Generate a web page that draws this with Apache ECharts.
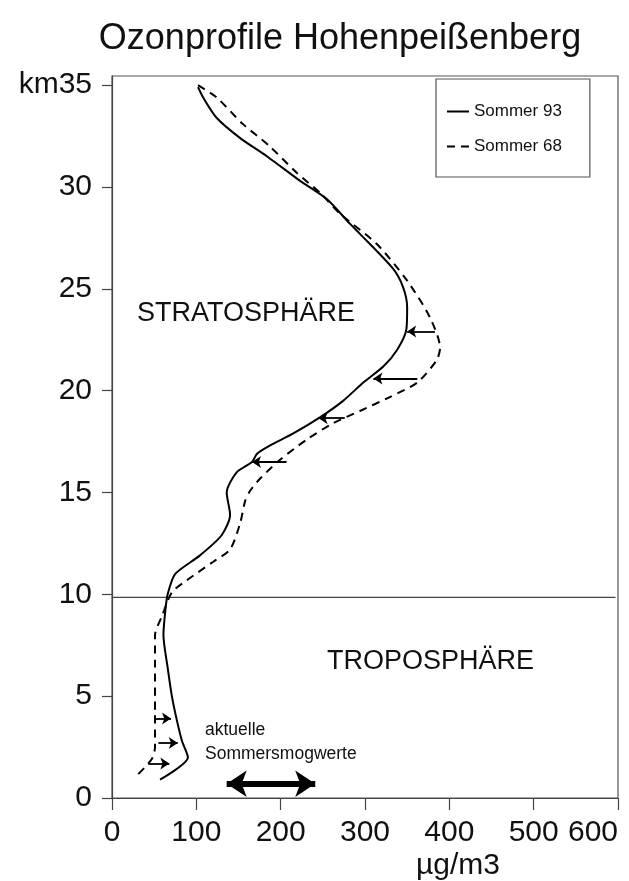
<!DOCTYPE html>
<html>
<head>
<meta charset="utf-8">
<script src="https://cdn.jsdelivr.net/npm/echarts@6/dist/echarts.min.js"></script>
<style>html,body{margin:0;padding:0;background:#fff}#c{width:629px;height:881px}</style>
</head>
<body>
<div id="c"></div>
<script>
// ---- data ----
const xTicks = [0, 100, 200, 300, 400, 500, 600];
const yTicks = [0, 5, 10, 15, 20, 25, 30, 35];
const seriesNames = ['Sommer 93', 'Sommer 68'];
// Sommer 93 (solid): ozone µg/m3 and altitude km
const s93_val = [102, 108, 124, 152, 184, 223, 255, 282, 294, 333, 345, 350, 349, 338, 322, 298, 274, 247, 215, 187, 172, 166, 148, 136, 140, 130, 104, 75, 66, 63, 61, 66, 71, 77, 83, 90, 57];
const s93_km  = [34.9, 34.4, 33.4, 32.4, 31.5, 30.3, 29.4, 28.2, 27.7, 26.0, 25.1, 24.1, 23.0, 22.0, 21.2, 20.4, 19.5, 18.7, 17.9, 17.3, 16.9, 16.5, 16.0, 15.0, 13.9, 12.9, 11.9, 11.0, 10.0, 9.1, 8.0, 6.4, 5.0, 3.8, 2.8, 2.0, 0.9];
// Sommer 68 (dashed)
const s68_val = [102, 124, 155, 187, 219, 247, 270, 314, 350, 377, 389, 385, 362, 330, 294, 262, 231, 199, 176, 164, 158, 152, 140, 120, 89, 71, 59, 51, 51, 51, 51, 47, 27];
const s68_km  = [35.0, 34.4, 33.1, 32.0, 30.7, 29.7, 28.7, 27.2, 25.4, 23.6, 22.1, 21.5, 20.4, 19.7, 19.0, 18.4, 17.6, 16.6, 15.7, 15.1, 14.6, 13.5, 12.2, 11.6, 10.7, 10.1, 8.9, 8.0, 6.6, 4.2, 2.5, 1.9, 1.0];
// tropopause line (km)
const tropopauseKm = 9.85;
const tropopauseRange = [0, 597];
// change arrows: [from value, to value, km]
const arrowsStrat = [[383, 350, 22.9], [362, 310, 20.6], [276, 245, 18.65], [207, 166, 16.5]];
const arrowsTropo = [[51, 70, 3.9], [55, 78, 2.7], [43, 68, 1.7]];
// range of current summer smog values
const smogRange = [136, 241, 0.7];

const zip = (a, b) => a.map((v, i) => [v, b[i]]);
const F = "'Liberation Sans', Arial, sans-serif";

const chart = echarts.init(document.getElementById('c'), null, {renderer: 'canvas'});
chart.setOption({
  animation: false,
  backgroundColor: '#fff',
  title: {
    text: 'Ozonprofile Hohenpeißenberg',
    left: 335, top: 16, textAlign: 'center',
    textStyle: {fontFamily: F, fontSize: 36, fontWeight: 'normal', color: '#111'}
  },
  legend: {
    orient: 'vertical', left: 436, top: 79,
    data: seriesNames,
    itemWidth: 22, itemHeight: 10, itemGap: 18,
    padding: [24, 28, 22, 10],
    itemStyle: {opacity: 0},
    backgroundColor: '#fff', borderColor: '#555', borderWidth: 1.2,
    textStyle: {fontFamily: F, fontSize: 17, color: '#111'}
  },
  grid: {left: 112, right: 11, top: 76, bottom: 83, outerBoundsMode: 'none', containLabel: false, show: true, borderColor: '#555', borderWidth: 1.2, backgroundColor: 'transparent'},
  xAxis: {
    type: 'value', min: 0, max: 600, interval: 100,
    splitLine: {show: false},
    axisLine: {lineStyle: {color: '#444', width: 1.2}},
    axisTick: {length: 12, lineStyle: {color: '#444', width: 1.2}},
    axisLabel: {margin: 20, alignMaxLabel: 'right', fontFamily: F, fontSize: 30, color: '#111', formatter: v => xTicks.includes(v) ? String(v) : ''}
  },
  yAxis: {
    type: 'value', min: 0, max: 35.45,
    splitLine: {show: false},
    axisLine: {lineStyle: {color: '#444', width: 1.2}},
    axisTick: {length: 10, customValues: yTicks, lineStyle: {color: '#444', width: 1.2}},
    axisLabel: {margin: 20, customValues: yTicks, fontFamily: F, fontSize: 30, color: '#111', formatter: v => v === 35 ? 'km35' : String(v)}
  },
  graphic: [
    {type: 'text', left: 416, top: 851, style: {text: 'µg/m3', fontFamily: F, fontSize: 30, fill: '#111'}},
    {type: 'text', left: 137, top: 300, style: {text: 'STRATOSPHÄRE', fontFamily: F, fontSize: 27, fill: '#111'}},
    {type: 'text', left: 327, top: 648, style: {text: 'TROPOSPHÄRE', fontFamily: F, fontSize: 27, fill: '#111'}},
    {type: 'text', left: 205, top: 718, style: {text: 'aktuelle\nSommersmogwerte', fontFamily: F, fontSize: 17.5, lineHeight: 24, fill: '#111'}}
  ],
  series: [
    {
      name: seriesNames[0], type: 'line', data: zip(s93_val, s93_km),
      symbol: 'none', smooth: 0.25, z: 5,
      lineStyle: {color: '#000', width: 2}, itemStyle: {color: '#000'}
    },
    {
      name: seriesNames[1], type: 'line', data: zip(s68_val, s68_km),
      symbol: 'none', smooth: 0.25, z: 5,
      lineStyle: {color: '#000', width: 2, type: [8, 6]}, itemStyle: {color: '#000'}
    },
    {
      name: 'tropopause', type: 'line',
      data: tropopauseRange.map(v => [v, tropopauseKm]),
      symbol: 'none', lineStyle: {color: '#444', width: 1.2}, z: 3
    },
    {
      name: 'arrows', type: 'lines', coordinateSystem: 'cartesian2d',
      symbol: ['none', 'arrow'], symbolSize: 9,
      lineStyle: {color: '#000', width: 1.8, opacity: 1},
      data: arrowsStrat.concat(arrowsTropo).map(a => ({coords: [[a[0], a[2]], [a[1], a[2]]]})),
      z: 6
    },
    {
      name: 'smog', type: 'lines', coordinateSystem: 'cartesian2d',
      symbol: ['arrow', 'arrow'], symbolSize: 20,
      lineStyle: {color: '#000', width: 6, opacity: 1},
      data: [{coords: [[smogRange[0], smogRange[2]], [smogRange[1], smogRange[2]]]}],
      z: 6
    }
  ]
});
</script>
</body>
</html>
